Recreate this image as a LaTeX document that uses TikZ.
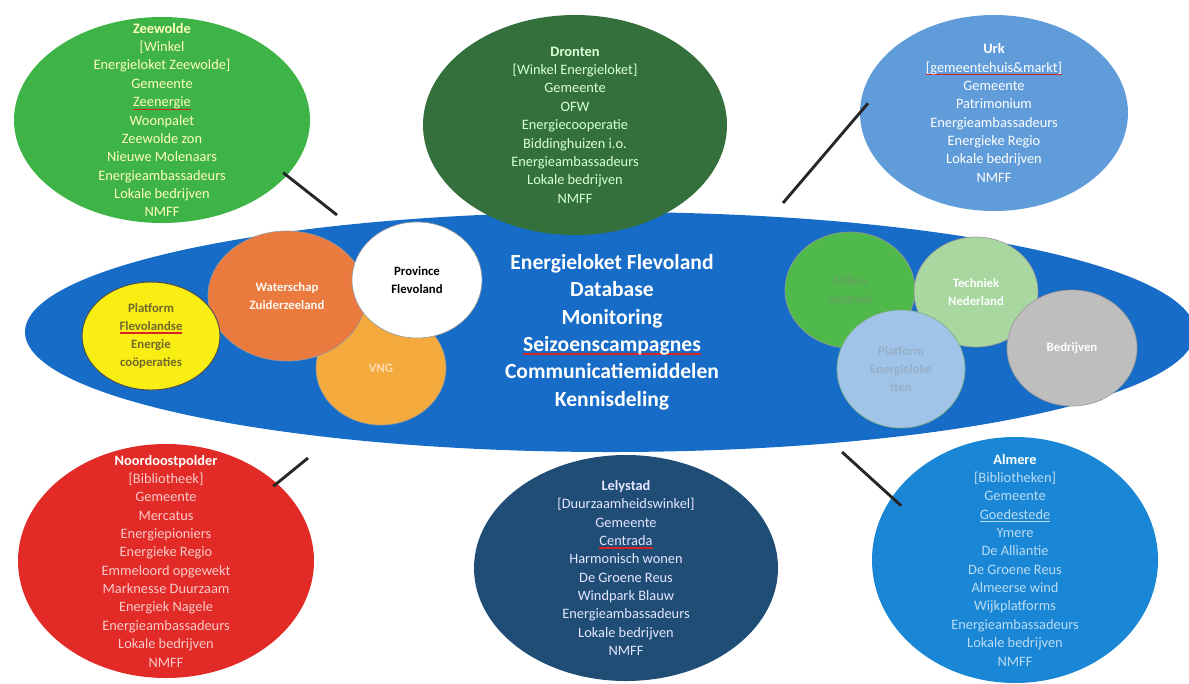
\documentclass[tikz,border=0pt]{standalone}
\usepackage{fontspec}
\setmainfont{Carlito}
\usetikzlibrary{shapes.geometric}

\definecolor{bandblue}{RGB}{22,108,199}
\definecolor{zeegreen}{RGB}{62,180,70}
\definecolor{drongreen}{RGB}{52,112,60}
\definecolor{urkblue}{RGB}{96,156,218}
\definecolor{noordred}{RGB}{226,42,38}
\definecolor{lelyblue}{RGB}{31,77,117}
\definecolor{almblue}{RGB}{25,135,213}
\definecolor{pfyellow}{RGB}{248,238,20}
\definecolor{pftext}{RGB}{115,105,45}
\definecolor{waterorange}{RGB}{234,122,62}
\definecolor{vngorange}{RGB}{244,170,60}
\definecolor{milieugreen}{RGB}{80,185,75}
\definecolor{techgreen}{RGB}{168,216,160}
\definecolor{loketblue}{RGB}{160,196,232}
\definecolor{bedrgray}{RGB}{190,190,190}
\definecolor{spellred}{RGB}{215,35,35}

\newcommand{\pxu}{0.022cm}
\newcommand{\spellmark}[2][spellred]{\leavevmode\setbox0=\hbox{#2}\rlap{\color{#1}\rule[-2pt]{\wd0}{0.8pt}}\box0}

\begin{document}
\begin{tikzpicture}[x=0.022cm,y=-0.022cm]
\tikzstyle{every node}+=[inner sep=0pt]
\tikzstyle{blob}=[ellipse, draw=none]
\tikzstyle{ring}=[ellipse, draw=black!40, line width=0.4pt]
\tikzstyle{lst}=[align=center, font=\fontsize{9}{11.5}\selectfont]
\tikzstyle{small}=[align=center, font=\fontsize{8}{11.3}\selectfont\bfseries]
\tikzstyle{link}=[line width=1.8pt, black!85, shorten <=-3pt]
\useasboundingbox (0,0) rectangle (1189,683);

% blue band in the middle
\node[blob, fill=bandblue, minimum width=1170*\pxu, minimum height=240*\pxu] (band) at (610,332) {};
\node[font=\fontsize{13.5}{17.2}\selectfont\bfseries, text=white, align=center] (loket) at (612,332)
  {Energieloket Flevoland\\Database\\Monitoring\\\spellmark{Seizoenscampagnes}\\Communicatiemiddelen\\Kennisdeling};

% left group
\node[ring, fill=vngorange, minimum width=130*\pxu, minimum height=114*\pxu] (vng) at (381,368) {};
\node[small, text=vngorange!40!white] at (vng) {VNG};
\node[ring, fill=waterorange, minimum width=158*\pxu, minimum height=130*\pxu] (water) at (287,296) {};
\node[small, text=white!95!orange] at (water) {Waterschap\\Zuiderzeeland};
\node[ring, fill=white, minimum width=130*\pxu, minimum height=116*\pxu] (prov) at (417,280) {};
\node[small, text=black] at (prov) {Province\\Flevoland};
\node[ellipse, draw=black!70, line width=0.6pt, fill=pfyellow, minimum width=138*\pxu, minimum height=108*\pxu] (pfe) at (151,336) {};
\node[small, text=pftext] at (pfe) {Platform\\\spellmark{Flevolandse}\\Energie\\coöperaties};

% right group
\node[ring, fill=milieugreen, minimum width=130*\pxu, minimum height=116*\pxu] (milieu) at (850,290) {};
\node[small, text=milieugreen!60!gray] at (milieu) {Milieu\\centraal};
\node[ring, fill=techgreen, minimum width=124*\pxu, minimum height=110*\pxu] (tech) at (976,292) {};
\node[small, text=white] at (tech) {Techniek\\Nederland};
\node[ring, draw=green!35!black!50, fill=loketblue, minimum width=128*\pxu, minimum height=118*\pxu] (ploket) at (901,369) {};
\node[small, text=loketblue!70!gray] at (ploket) {Platform\\Energieloke\\tten};
\node[ring, fill=bedrgray, minimum width=130*\pxu, minimum height=116*\pxu] (bedr) at (1072,348) {};
\node[small, text=white] at (bedr) {Bedrijven};

% municipalities
\node[blob, fill=zeegreen, minimum width=296*\pxu, minimum height=206*\pxu] (zeewolde) at (162,120) {};
\node[lst, text=yellow!25!white] at (zeewolde) {\textbf{Zeewolde}\\{[}Winkel\\Energieloket Zeewolde{]}\\Gemeente\\\spellmark{Zeenergie}\\Woonpalet\\Zeewolde zon\\Nieuwe Molenaars\\Energieambassadeurs\\Lokale bedrijven\\NMFF};

\node[blob, fill=drongreen, minimum width=304*\pxu, minimum height=220*\pxu] (dronten) at (575,125) {};
\node[lst, text=green!15!white] at (dronten) {\textbf{Dronten}\\{[}Winkel Energieloket{]}\\Gemeente\\OFW\\Energiecooperatie\\Biddinghuizen i.o.\\Energieambassadeurs\\Lokale bedrijven\\NMFF};

\node[blob, fill=urkblue, minimum width=268*\pxu, minimum height=196*\pxu] (urk) at (994,113) {};
\node[lst, text=white] at (urk) {\textbf{Urk}\\\spellmark{{[}gemeentehuis\&markt{]}}\\Gemeente\\Patrimonium\\Energieambassadeurs\\Energieke Regio\\Lokale bedrijven\\NMFF};

\node[blob, fill=noordred, minimum width=296*\pxu, minimum height=234*\pxu] (noordoost) at (166,561) {};
\node[lst, text=noordred!25!white] at (noordoost) {\textcolor{white}{\textbf{Noordoostpolder}}\\{[}Bibliotheek{]}\\Gemeente\\Mercatus\\Energiepioniers\\Energieke Regio\\Emmeloord opgewekt\\Marknesse Duurzaam\\Energiek Nagele\\Energieambassadeurs\\Lokale bedrijven\\NMFF};

\node[blob, fill=lelyblue, minimum width=304*\pxu, minimum height=226*\pxu] (lelystad) at (626,568) {};
\node[lst, text=white!90!blue] at (lelystad) {\textbf{Lelystad}\\{[}Duurzaamheidswinkel{]}\\Gemeente\\\spellmark{Centrada}\\Harmonisch wonen\\De Groene Reus\\Windpark Blauw\\Energieambassadeurs\\Lokale bedrijven\\NMFF};

\node[blob, fill=almblue, minimum width=286*\pxu, minimum height=246*\pxu] (almere) at (1015,560) {};
\node[lst, text=almblue!30!white] at (almere) {\textcolor{white}{\textbf{Almere}}\\{[}Bibliotheken{]}\\Gemeente\\\spellmark[almblue!30!white]{Goedestede}\\Ymere\\De Alliantie\\De Groene Reus\\Almeerse wind\\Wijkplatforms\\Energieambassadeurs\\Lokale bedrijven\\NMFF};

% connectors
\coordinate (zeeTip) at (337,215);
\coordinate (urkTip) at (783,203);
\coordinate (nopTip) at (308,458);
\coordinate (almTip) at (842,452);
\draw[link] (zeewolde.-24) -- (zeeTip);
\draw[link, shorten <=-8pt] (urk.180) -- (urkTip);
\draw[link] (noordoost.35) -- (nopTip);
\draw[link, shorten <=-8pt] (almere.153) -- (almTip);
\end{tikzpicture}
\end{document}
